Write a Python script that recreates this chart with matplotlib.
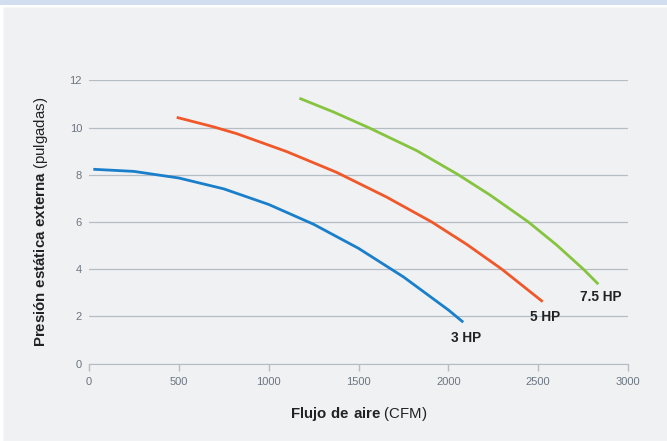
import matplotlib
matplotlib.use("Agg")
from matplotlib import pyplot as plt
from matplotlib.patches import Rectangle

plt.rcParams['font.family'] = ['Liberation Sans', 'DejaVu Sans']
plt.rcParams['mathtext.fontset'] = 'custom'
plt.rcParams['mathtext.rm'] = 'Liberation Sans'
plt.rcParams['mathtext.bf'] = 'Liberation Sans:bold'

#curvas
flujo_3hp = [24, 250, 500, 750, 1000, 1250, 1500, 1750, 2000, 2083]
pres_3hp = [8.23, 8.14, 7.86, 7.40, 6.74, 5.90, 4.88, 3.67, 2.27, 1.75]
flujo_5hp = [488, 692, 822, 1100, 1378, 1657, 1907, 2102, 2297, 2525]
pres_5hp = [10.43, 10.03, 9.74, 8.98, 8.1, 7.05, 6.0, 5.05, 4.0, 2.62]
flujo_75hp = [1171, 1360, 1555, 1824, 2055, 2232, 2445, 2603, 2751, 2835]
pres_75hp = [11.24, 10.66, 10.0, 9.02, 8.0, 7.14, 6.0, 5.02, 4.0, 3.36]
etiquetas = ['3 HP', '5 HP', '7.5 HP']
colores = ['#1a7fcb', '#f0582a', '#86c440']
x_ticks = [0, 500, 1000, 1500, 2000, 2500, 3000]
y_ticks = [0, 2, 4, 6, 8, 10, 12]

W, H = 667, 441
fig = plt.figure(figsize=(W / 100, H / 100), dpi=100)
fig.patch.set_facecolor('white')
fig.patches.append(Rectangle((0, 1 - 5 / H), 1, 5 / H, transform=fig.transFigure,
                             facecolor='#d0deef', edgecolor='none', zorder=-2))
fig.patches.append(Rectangle((3 / W, 0), 1, 1 - 7 / H, transform=fig.transFigure,
                             facecolor='#f0f1f3', edgecolor='#f8f8f8', lw=1, zorder=-2))

ax = fig.add_axes([89 / W, (H - 363.5) / H, (628 - 89) / W, (363.5 - 80.3) / H])
ax.set_facecolor('none')

curvas = [(flujo_3hp, pres_3hp), (flujo_5hp, pres_5hp), (flujo_75hp, pres_75hp)]
offsets = [(3, -16), (2, -15), (2, -13)]
for (fx, py), lab, c, off in zip(curvas, etiquetas, colores, offsets):
    ax.plot(fx, py, color=c, lw=2.0, solid_capstyle='butt', solid_joinstyle='round', zorder=3)
    ax.annotate(lab, (fx[-1], py[-1]), xytext=(off[0] * 0.72, off[1] * 0.72),
                textcoords='offset points', ha='center', va='center',
                fontsize=9.8, fontweight='bold', color='#222222')

ax.set_xlim(0, 3000)
ax.set_ylim(0, 12)
ax.set_xticks(x_ticks)
ax.set_yticks(y_ticks)
ax.yaxis.grid(True, color='#b4bcc4', lw=0.9)
ax.set_axisbelow(True)
for sp in ['top', 'right', 'left']:
    ax.spines[sp].set_visible(False)
ax.spines['bottom'].set_color('#b4bcc4')
ax.tick_params(axis='x', colors='#b4bcc4', length=5, width=1, labelcolor='#6b7580', labelsize=8, pad=5)
ax.tick_params(axis='y', length=0, labelcolor='#6b7580', labelsize=8, pad=5)

ax.set_xlabel(r'$\bf{Flujo\ de\ aire}$ (CFM)', fontsize=10.8, color='#222222', labelpad=13)
ax.set_ylabel(r'$\bf{Presión\ estática\ externa}$ (pulgadas)', fontsize=10.8, color='#222222', labelpad=14)

fig.savefig('out.png', dpi=100, facecolor=fig.get_facecolor())
